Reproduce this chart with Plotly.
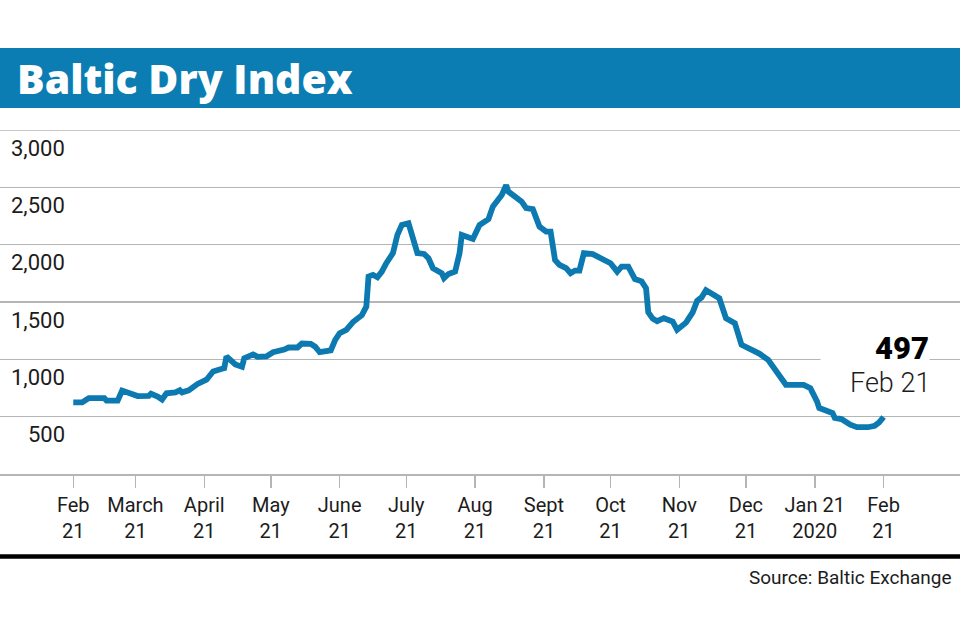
import plotly.graph_objects as go

# ---------------- data ----------------
dates = [
    "2019-02-21", "2019-02-25", "2019-02-28", "2019-03-07", "2019-03-08", "2019-03-13",
    "2019-03-15", "2019-03-18", "2019-03-22", "2019-03-27", "2019-03-28", "2019-03-31",
    "2019-04-02", "2019-04-04", "2019-04-08", "2019-04-10", "2019-04-11", "2019-04-14",
    "2019-04-18", "2019-04-22", "2019-04-24", "2019-04-25", "2019-04-29", "2019-04-30",
    "2019-05-01", "2019-05-03", "2019-05-05", "2019-05-08", "2019-05-09", "2019-05-13",
    "2019-05-15", "2019-05-19", "2019-05-22", "2019-05-27", "2019-05-29", "2019-06-02",
    "2019-06-04", "2019-06-08", "2019-06-10", "2019-06-12", "2019-06-17", "2019-06-19",
    "2019-06-21", "2019-06-24", "2019-06-27", "2019-07-01", "2019-07-03", "2019-07-04",
    "2019-07-06", "2019-07-08", "2019-07-10", "2019-07-12", "2019-07-15", "2019-07-17",
    "2019-07-19", "2019-07-22", "2019-07-23", "2019-07-25", "2019-07-26", "2019-07-29",
    "2019-07-31", "2019-08-02", "2019-08-04", "2019-08-06", "2019-08-07", "2019-08-09",
    "2019-08-12", "2019-08-14", "2019-08-15", "2019-08-18", "2019-08-20", "2019-08-23",
    "2019-08-26", "2019-08-27", "2019-08-29", "2019-09-01", "2019-09-02", "2019-09-04",
    "2019-09-05", "2019-09-08", "2019-09-11", "2019-09-13", "2019-09-16", "2019-09-19",
    "2019-09-22", "2019-09-24", "2019-09-26", "2019-09-28", "2019-10-01", "2019-10-03",
    "2019-10-05", "2019-10-07", "2019-10-09", "2019-10-13", "2019-10-16", "2019-10-18",
    "2019-10-21", "2019-10-24", "2019-10-26", "2019-10-29", "2019-11-01", "2019-11-04",
    "2019-11-06", "2019-11-07", "2019-11-09", "2019-11-11", "2019-11-14", "2019-11-18",
    "2019-11-20", "2019-11-24", "2019-11-27", "2019-11-29", "2019-12-01", "2019-12-03",
    "2019-12-06", "2019-12-09", "2019-12-12", "2019-12-16", "2019-12-19", "2019-12-22",
    "2019-12-27", "2019-12-31", "2020-01-02", "2020-01-04", "2020-01-05", "2020-01-08",
    "2020-01-16", "2020-01-19", "2020-01-22", "2020-01-23", "2020-01-26", "2020-01-29",
    "2020-01-30", "2020-02-02", "2020-02-06", "2020-02-09", "2020-02-14", "2020-02-17",
    "2020-02-19", "2020-02-21",
]
bdi = [
    624, 624, 662, 662, 640, 640,
    728, 710, 680, 682, 700, 676,
    650, 704, 712, 730, 712, 730,
    785, 822, 860, 894, 918, 923,
    1025, 985, 955, 935, 1008, 1043,
    1022, 1025, 1062, 1085, 1103, 1103,
    1138, 1135, 1110, 1062, 1078, 1170,
    1228, 1257, 1325, 1385, 1460, 1722,
    1737, 1716, 1765, 1838, 1926, 2085,
    2172, 2187, 2114, 1954, 1926, 1919,
    1882, 1795, 1774, 1751, 1708, 1745,
    1765, 1926, 2085, 2070, 2050, 2172,
    2201, 2222, 2332, 2405, 2434, 2518,
    2462, 2419, 2375, 2318, 2309, 2157,
    2114, 2114, 1867, 1824, 1795, 1751,
    1774, 1774, 1926, 1917, 1891, 1861,
    1838, 1765, 1809, 1809, 1700, 1680,
    1620, 1410, 1355, 1333, 1359, 1330,
    1257, 1320, 1410, 1510, 1540, 1603,
    1562, 1533, 1359, 1316, 1127, 1098,
    1050, 996, 938, 880, 850, 778,
    778, 749, 633, 575, 554, 531,
    490, 479, 430, 408, 408, 421,
    450, 497,
]

tick_dates = ["2019-02-21", "2019-03-21", "2019-04-21", "2019-05-21", "2019-06-21",
              "2019-07-21", "2019-08-21", "2019-09-21", "2019-10-21", "2019-11-21",
              "2019-12-21", "2020-01-21", "2020-02-21"]
tick_text = ["Feb<br>21", "March<br>21", "April<br>21", "May<br>21", "June<br>21",
             "July<br>21", "Aug<br>21", "Sept<br>21", "Oct<br>21", "Nov<br>21",
             "Dec<br>21", "Jan 21<br>2020", "Feb<br>21"]

y_ticks = [500, 1000, 1500, 2000, 2500, 3000]
y_tick_text = ["500", "1,000", "1,500", "2,000", "2,500", "3,000"]

title_text = "Baltic Dry Index"
source_text = "Source: Baltic Exchange"
last_value_text = "497"
last_date_text = "Feb 21"

# ---------------- style ----------------
W, H = 960, 640
M_T, M_B = 130, 166
PLOT_H = H - M_T - M_B
BLUE = "#0b7db3"
LINE = "#0c7ab0"
GRID = "#b5b5b5"
TXT = "#1c1c1c"
FONT = "Roboto"


def py(pix):
    """convert a pixel row to paper y"""
    return (H - M_B - pix) / PLOT_H


def px(pix):
    return pix / W


fig = go.Figure()
fig.add_trace(go.Scatter(
    x=dates, y=bdi, mode="lines",
    line=dict(color=LINE, width=5.8),
    hoverinfo="skip", showlegend=False,
))

fig.update_layout(
    width=W, height=H,
    margin=dict(l=0, r=0, t=M_T, b=M_B),
    paper_bgcolor="white", plot_bgcolor="white",
    showlegend=False,
    xaxis=dict(
        type="date",
        range=["2019-01-19", "2020-03-26 10:00"],
        tickvals=tick_dates, ticktext=tick_text,
        showgrid=False, zeroline=False,
        showline=True, linecolor=GRID, linewidth=1.5,
        ticks="outside", ticklen=12, tickwidth=1.5, tickcolor=GRID,
        tickfont=dict(family=FONT, size=20, color=TXT),
        fixedrange=True,
    ),
    yaxis=dict(
        range=[0, 3000],
        tickvals=[0] + y_ticks,
        showticklabels=False,
        showgrid=True, gridcolor=GRID, gridwidth=1.5,
        zeroline=False, showline=False, ticks="",
        fixedrange=True,
    ),
)

shapes = [
    # top gridline (at the edge of the y range)
    dict(type="line", xref="paper", yref="y", x0=0, x1=1, y0=y_ticks[-1], y1=y_ticks[-1],
         line=dict(color=GRID, width=1.5), layer="below"),
    # title band
    dict(type="rect", xref="paper", yref="paper", x0=0, x1=1, y0=py(108), y1=py(48),
         fillcolor=BLUE, line=dict(width=0), layer="above"),
    # bottom rule
    dict(type="line", xref="paper", yref="paper", x0=0, x1=1, y0=py(556.5), y1=py(556.5),
         line=dict(color="black", width=4.5), layer="above"),
]
fig.update_layout(shapes=shapes)

annotations = [
    dict(text=title_text, xref="paper", yref="paper", x=px(15), y=py(78),
         xanchor="left", yanchor="middle", showarrow=False,
         font=dict(family="Open Sans", size=41, color="white", weight=800)),
    dict(text=source_text, xref="paper", yref="paper", x=px(954), y=py(577),
         xanchor="right", yanchor="middle", showarrow=False,
         font=dict(family=FONT, size=19, color=TXT)),
]
for v, t in zip(y_ticks, y_tick_text):
    annotations.append(dict(text=t, xref="paper", yref="y", x=px(67), y=v, yshift=-18,
                            xanchor="right", yanchor="middle", showarrow=False,
                            font=dict(family=FONT, size=22, color=TXT)))

annotations.append(dict(text=last_value_text, xref="x", yref="y", x=dates[-1], y=bdi[-1],
                        xshift=46, yshift=69, xanchor="right", yanchor="middle",
                        showarrow=False, width=108, align="right", bgcolor="white",
                        borderpad=0,
                        font=dict(family=FONT, size=31, color="black", weight=900)))
annotations.append(dict(text=last_date_text, xref="x", yref="y", x=dates[-1], y=bdi[-1],
                        xshift=48, yshift=34, xanchor="right", yanchor="middle",
                        showarrow=False, bgcolor="white",
                        font=dict(family=FONT, size=27, color=TXT, weight=300)))
fig.update_layout(annotations=annotations)

fig.write_html("out.html",
               config={"displayModeBar": False, "staticPlot": True},
               post_script="document.body.style.margin='0';document.body.style.overflow='hidden';")
